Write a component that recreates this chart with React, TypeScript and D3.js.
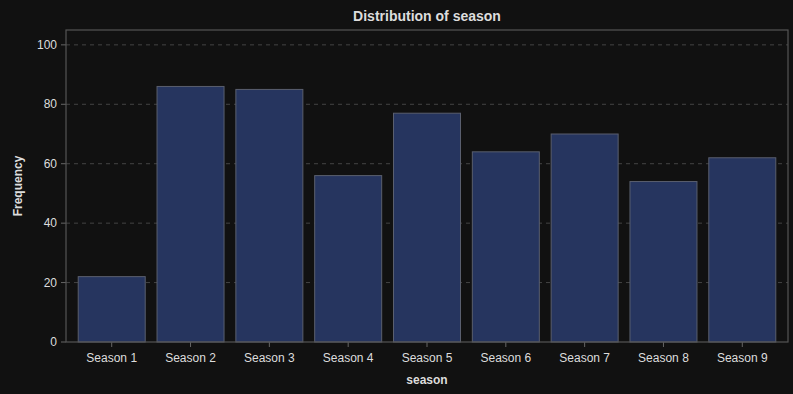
import * as d3 from "d3";

const seasons = ["Season 1", "Season 2", "Season 3", "Season 4", "Season 5", "Season 6", "Season 7", "Season 8", "Season 9"];
const counts = [22, 86, 85, 56, 77, 64, 70, 54, 62];
const yTicks = [0, 20, 40, 60, 80, 100];

export default function App() {
  const width = 793;
  const height = 394;
  const m = { top: 30, right: 5, bottom: 52, left: 66 };
  const iw = width - m.left - m.right;
  const ih = height - m.top - m.bottom;

  const x = d3.scaleBand().domain(seasons).range([0, iw]).paddingInner(0.15).paddingOuter(0.155);
  const y = d3.scaleLinear().domain([0, 105]).range([ih, 0]);

  const font = "'Liberation Sans', Arial, sans-serif";

  return (
    <svg width={width} height={height} style={{ position: "absolute", left: 0, top: 0, background: "#111111" }} fontFamily={font}>
      <rect width={width} height={height} fill="#111111" />
      <text x={m.left + iw / 2} y={21} textAnchor="middle" fill="#dddddd" fontSize={14} fontWeight="bold">Distribution of season</text>
      <g transform={`translate(${m.left},${m.top})`}>
        {yTicks.map(t => (
          <g key={t}>
            {t > 0 && <line x1={0} x2={iw} y1={y(t)} y2={y(t)} stroke="#444444" strokeDasharray="4,4" />}
            <line x1={-5} x2={0} y1={y(t)} y2={y(t)} stroke="#666666" />
            <text x={-9} y={y(t)} dy="0.35em" textAnchor="end" fill="#dddddd" fontSize={12}>{t}</text>
          </g>
        ))}
        {seasons.map((s, i) => (
          <g key={s}>
            <rect x={x(s)} y={y(counts[i])} width={x.bandwidth()} height={ih - y(counts[i])} fill="#26355f" stroke="#5a5f6e" strokeWidth={1} />
            <line x1={x(s)! + x.bandwidth() / 2} x2={x(s)! + x.bandwidth() / 2} y1={ih} y2={ih + 5} stroke="#666666" />
            <text x={x(s)! + x.bandwidth() / 2} y={ih + 20} textAnchor="middle" fill="#dddddd" fontSize={12}>{s}</text>
          </g>
        ))}
        <rect x={0} y={0} width={iw} height={ih} fill="none" stroke="#555555" strokeWidth={1.2} />
        <text x={iw / 2} y={ih + 42} textAnchor="middle" fill="#dddddd" fontSize={12} fontWeight="bold">season</text>
      </g>
      <text transform={`translate(22,${m.top + ih / 2}) rotate(-90)`} textAnchor="middle" fill="#dddddd" fontSize={12} fontWeight="bold">Frequency</text>
    </svg>
  );
}
